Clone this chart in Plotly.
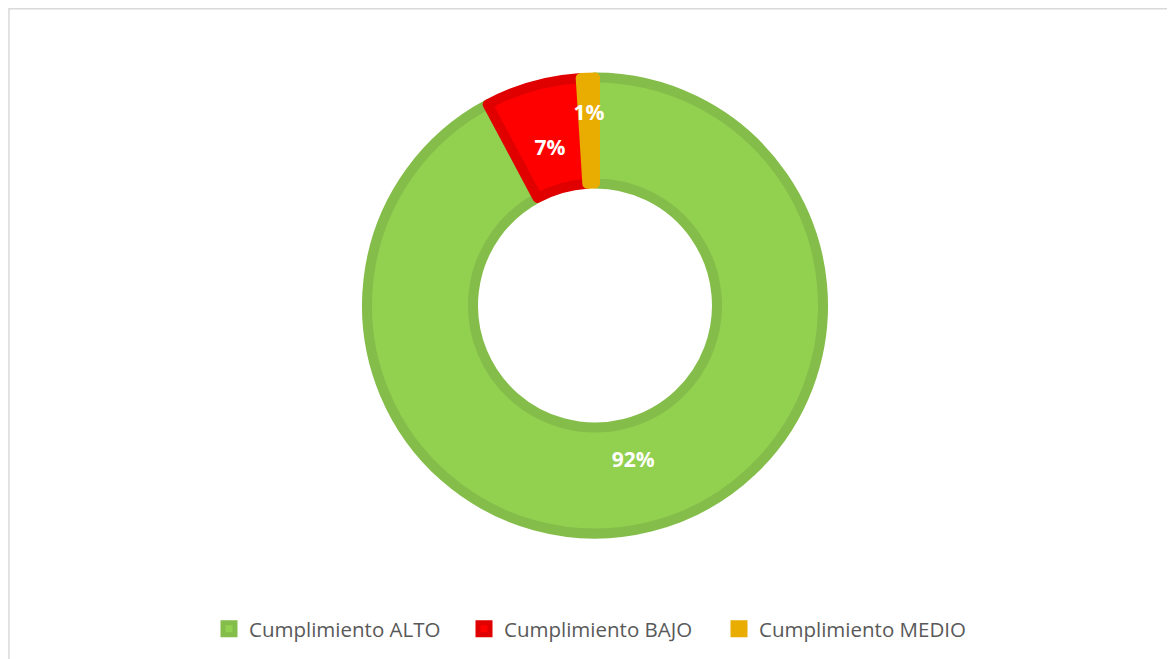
import plotly.graph_objects as go

categories = ["Cumplimiento ALTO", "Cumplimiento BAJO", "Cumplimiento MEDIO"]
values = [92.2, 6.8, 1.0]
fill_colors = ["#92D050", "#FF0000", "#E8AD00"]
border_colors = ["#84BD4A", "#E00000", "#E8AD00"]

W, H = 1175, 659
OFF = 8  # page body margin
cx, cy, R = 595 - OFF, 305.5 - OFF, 228
RL = 200  # radius of the label-carrying ring


def dom(r):
    return dict(x=[(cx - r) / W, (cx + r) / W], y=[1 - (cy + r) / H, 1 - (cy - r) / H])


fig = go.Figure()
fig.add_trace(go.Pie(
    labels=categories,
    values=values,
    sort=False,
    direction="clockwise",
    rotation=0,
    hole=0.535,
    marker=dict(colors=fill_colors, line=dict(color=border_colors, width=10)),
    textinfo="none",
    domain=dom(R),
))
fig.add_trace(go.Pie(
    labels=categories,
    values=values,
    sort=False,
    direction="clockwise",
    rotation=0,
    hole=116 / RL,
    marker=dict(colors=["rgba(0,0,0,0)"] * 3, line=dict(width=0)),
    texttemplate="%{percent:.0%}",
    textposition="inside",
    insidetextorientation="horizontal",
    textfont=dict(family="Open Sans", size=21, color="white", weight="bold"),
    showlegend=False,
    hoverinfo="skip",
    domain=dom(RL),
))

fig.update_layout(
    width=W, height=H,
    margin=dict(l=0, r=0, t=0, b=0),
    paper_bgcolor="white",
    plot_bgcolor="white",
    uniformtext=dict(mode="show", minsize=21),
    legend=dict(
        orientation="h", x=(249 - OFF - 40) / W, xanchor="left",
        y=1 - (629 - OFF) / H, yanchor="middle",
        font=dict(family="Open Sans", size=20.5, color="#595959"),
        entrywidth=210,
    ),
    shapes=[dict(type="rect", xref="paper", yref="paper",
                 x0=0.0008, x1=1.02, y0=-0.02, y1=0.9988,
                 line=dict(color="#D9D9D9", width=1.5))],
)

fig.write_html("out.html")
